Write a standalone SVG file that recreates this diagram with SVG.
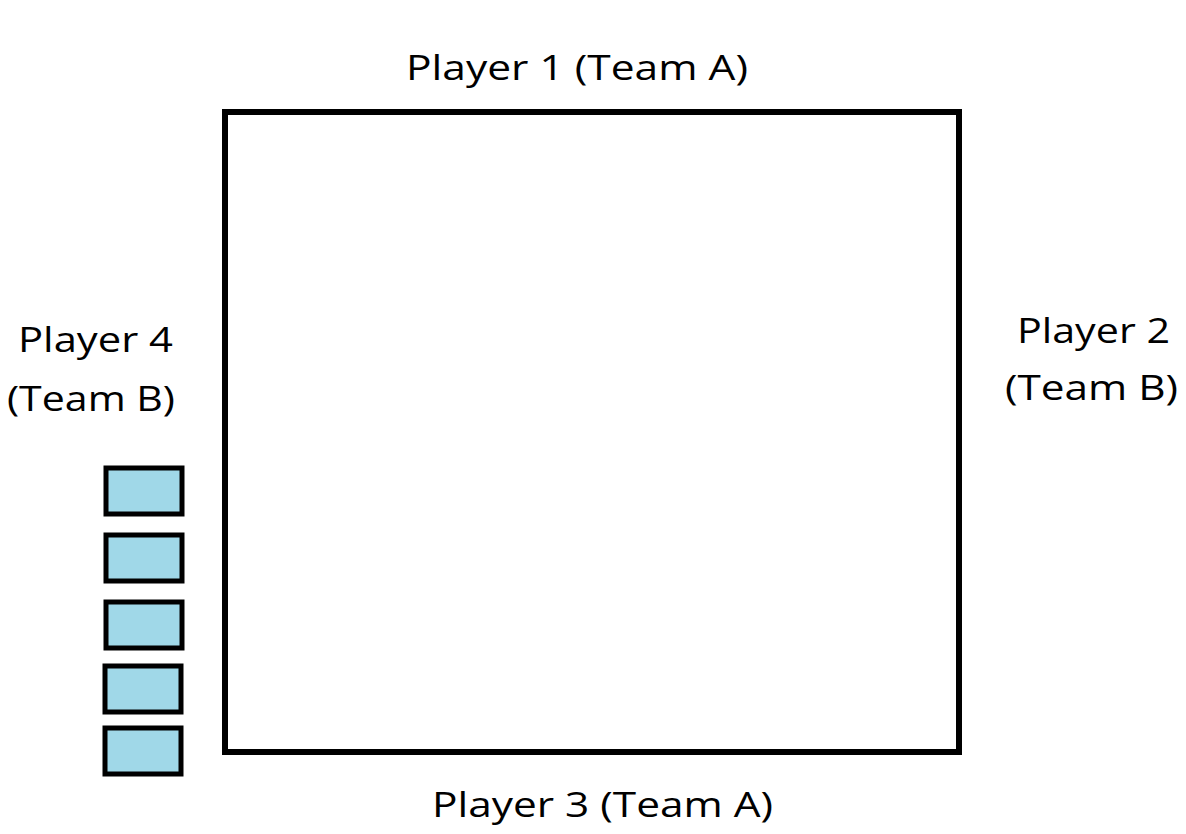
<svg xmlns="http://www.w3.org/2000/svg" width="1186" height="834" viewBox="0 0 1186 834">
  <style>
    .lbl { font-family: "Open Sans", "Noto Sans", "Liberation Sans", sans-serif; font-size: 35px; fill: #000; }
    .board { fill: #fff; stroke: #000; stroke-width: 6; }
    .tile { fill: #a0d8e8; stroke: #000; stroke-width: 5; }
  </style>
  <rect x="0" y="0" width="1186" height="834" fill="#fff"/>
  <g id="board">
    <rect class="board" x="225" y="112" width="734" height="640"/>
  </g>
  <g id="player1">
    <text class="lbl" x="406" y="80" textLength="342" lengthAdjust="spacingAndGlyphs">Player 1 (Team A)</text>
  </g>
  <g id="player2">
    <text class="lbl" x="1017" y="343" textLength="153" lengthAdjust="spacingAndGlyphs">Player 2</text>
    <text class="lbl" x="1005" y="400" textLength="173" lengthAdjust="spacingAndGlyphs">(Team B)</text>
  </g>
  <g id="player3">
    <text class="lbl" x="432" y="817" textLength="341" lengthAdjust="spacingAndGlyphs">Player 3 (Team A)</text>
  </g>
  <g id="player4">
    <text class="lbl" x="18" y="352" textLength="155" lengthAdjust="spacingAndGlyphs">Player 4</text>
    <text class="lbl" x="7" y="411" textLength="168" lengthAdjust="spacingAndGlyphs">(Team B)</text>
  </g>
  <g id="tiles">
    <rect class="tile" x="106" y="468" width="76" height="46"/>
    <rect class="tile" x="106" y="535" width="76" height="46"/>
    <rect class="tile" x="106" y="602" width="76" height="46"/>
    <rect class="tile" x="105" y="666" width="76" height="46"/>
    <rect class="tile" x="105" y="728" width="76" height="46"/>
  </g>
  <g id="connectors"></g>
</svg>
